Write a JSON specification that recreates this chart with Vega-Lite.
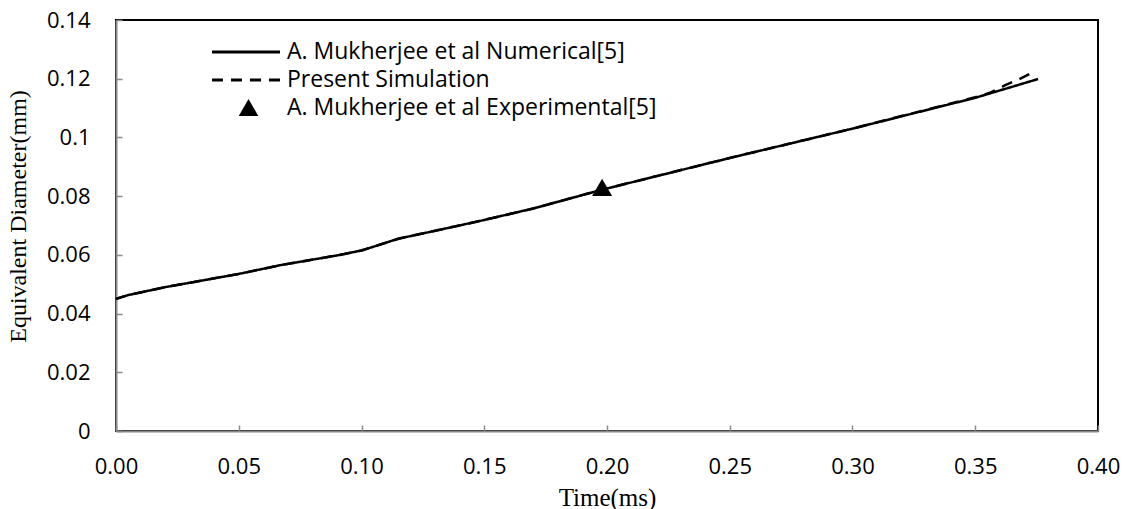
{
  "$schema": "https://vega.github.io/schema/vega-lite/v6.json",
  "width": 982,
  "height": 411,
  "autosize": {"type": "none"},
  "padding": {"left": 116, "top": 20, "right": 27, "bottom": 78},
  "background": "white",
  "config": {"view": {"stroke": "black", "strokeWidth": 2}},
  "data": {"values": [
    {"series": "A. Mukherjee et al Numerical[5]", "t": 0.000, "d": 0.0450},
    {"series": "A. Mukherjee et al Numerical[5]", "t": 0.005, "d": 0.0463},
    {"series": "A. Mukherjee et al Numerical[5]", "t": 0.020, "d": 0.0490},
    {"series": "A. Mukherjee et al Numerical[5]", "t": 0.050, "d": 0.0535},
    {"series": "A. Mukherjee et al Numerical[5]", "t": 0.067, "d": 0.0565},
    {"series": "A. Mukherjee et al Numerical[5]", "t": 0.090, "d": 0.0598},
    {"series": "A. Mukherjee et al Numerical[5]", "t": 0.100, "d": 0.0615},
    {"series": "A. Mukherjee et al Numerical[5]", "t": 0.105, "d": 0.0628},
    {"series": "A. Mukherjee et al Numerical[5]", "t": 0.115, "d": 0.0655},
    {"series": "A. Mukherjee et al Numerical[5]", "t": 0.130, "d": 0.0682},
    {"series": "A. Mukherjee et al Numerical[5]", "t": 0.148, "d": 0.0715},
    {"series": "A. Mukherjee et al Numerical[5]", "t": 0.170, "d": 0.0758},
    {"series": "A. Mukherjee et al Numerical[5]", "t": 0.198, "d": 0.0822},
    {"series": "A. Mukherjee et al Numerical[5]", "t": 0.250, "d": 0.0930},
    {"series": "A. Mukherjee et al Numerical[5]", "t": 0.300, "d": 0.1030},
    {"series": "A. Mukherjee et al Numerical[5]", "t": 0.350, "d": 0.1135},
    {"series": "A. Mukherjee et al Numerical[5]", "t": 0.3756, "d": 0.1199},
    {"series": "Present Simulation", "t": 0.000, "d": 0.0450},
    {"series": "Present Simulation", "t": 0.005, "d": 0.0463},
    {"series": "Present Simulation", "t": 0.020, "d": 0.0490},
    {"series": "Present Simulation", "t": 0.050, "d": 0.0535},
    {"series": "Present Simulation", "t": 0.067, "d": 0.0565},
    {"series": "Present Simulation", "t": 0.090, "d": 0.0598},
    {"series": "Present Simulation", "t": 0.100, "d": 0.0615},
    {"series": "Present Simulation", "t": 0.105, "d": 0.0628},
    {"series": "Present Simulation", "t": 0.115, "d": 0.0655},
    {"series": "Present Simulation", "t": 0.130, "d": 0.0682},
    {"series": "Present Simulation", "t": 0.148, "d": 0.0715},
    {"series": "Present Simulation", "t": 0.170, "d": 0.0758},
    {"series": "Present Simulation", "t": 0.198, "d": 0.0822},
    {"series": "Present Simulation", "t": 0.250, "d": 0.0930},
    {"series": "Present Simulation", "t": 0.300, "d": 0.1030},
    {"series": "Present Simulation", "t": 0.350, "d": 0.1137},
    {"series": "Present Simulation", "t": 0.356, "d": 0.1152},
    {"series": "Present Simulation", "t": 0.362, "d": 0.1177},
    {"series": "Present Simulation", "t": 0.368, "d": 0.1199},
    {"series": "Present Simulation", "t": 0.3735, "d": 0.1222},
    {"series": "A. Mukherjee et al Experimental[5]", "t": 0.198, "d": 0.0830}
  ]},
  "encoding": {
    "x": {
      "field": "t", "type": "quantitative",
      "scale": {"domain": [0, 0.4], "nice": false, "zero": false},
      "axis": {
        "title": "Time(ms)",
        "values": [0, 0.05, 0.1, 0.15, 0.2, 0.25, 0.3, 0.35, 0.4],
        "format": ".2f",
        "grid": false,
        "labelFont": "Open Sans", "labelFontSize": 22, "labelColor": "black",
        "labelFlush": false, "labelOverlap": false, "labelPadding": 31,
        "tickSize": -6, "tickColor": "#898989", "tickWidth": 1.5,
        "domainColor": "#898989", "domainWidth": 2,
        "titleFont": "Liberation Serif", "titleFontSize": 25, "titleFontWeight": "normal", "titleColor": "black",
        "titleX": 491, "titleY": 66, "titleBaseline": "middle"
      }
    },
    "y": {
      "field": "d", "type": "quantitative",
      "scale": {"domain": [0, 0.14], "nice": false},
      "axis": {
        "title": "Equivalent Diameter(mm)",
        "values": [0, 0.02, 0.04, 0.06, 0.08, 0.1, 0.12, 0.14],
        "format": "~f",
        "grid": false,
        "labelFont": "Open Sans", "labelFontSize": 22, "labelColor": "black",
        "labelFlush": false, "labelOverlap": false, "labelPadding": 32,
        "tickSize": -6, "tickColor": "#898989", "tickWidth": 1.5,
        "domainColor": "#898989", "domainWidth": 2,
        "titleFont": "Liberation Serif", "titleFontSize": 24, "titleFontWeight": "normal", "titleColor": "black",
        "titleX": -98, "titleY": 196, "titleBaseline": "middle", "titleAngle": -90
      }
    }
  },
  "layer": [
    {
      "transform": [{"filter": "datum.series !== 'A. Mukherjee et al Experimental[5]'"}],
      "mark": {"type": "line", "color": "black", "strokeWidth": 2.5},
      "encoding": {
        "detail": {"field": "series", "type": "nominal"},
        "strokeDash": {
          "field": "series", "type": "nominal",
          "scale": {
            "domain": ["A. Mukherjee et al Numerical[5]", "Present Simulation"],
            "range": [[1, 0], [11, 8]]
          },
          "legend": {
            "title": null, "orient": "none", "legendX": 117, "legendY": 19, "padding": 0,
            "symbolType": "M-3,0L3,0", "symbolSize": 514, "symbolStrokeWidth": 3, "symbolStrokeColor": "black",
            "symbolFillColor": "transparent",
            "labelFont": "Open Sans", "labelFontSize": 23, "labelColor": "black", "labelOffset": 28,
            "labelLimit": 600, "rowPadding": 3
          }
        },
        "order": {"field": "series", "type": "nominal", "sort": "descending"}
      }
    },
    {
      "transform": [{"filter": "datum.series === 'A. Mukherjee et al Experimental[5]'"}],
      "mark": {"type": "point", "shape": "triangle-up", "filled": true, "size": 400, "opacity": 1, "color": "black"},
      "encoding": {
        "shape": {
          "field": "series", "type": "nominal",
          "scale": {"domain": ["A. Mukherjee et al Experimental[5]"], "range": ["triangle-up"]},
          "legend": {
            "title": null, "orient": "none", "legendX": 121, "legendY": 76, "padding": 0,
            "symbolSize": 380, "symbolFillColor": "black", "symbolStrokeColor": "black", "symbolStrokeWidth": 0,
            "labelFont": "Open Sans", "labelFontSize": 23, "labelColor": "black", "labelOffset": 27,
            "labelLimit": 600
          }
        }
      }
    }
  ]
}
